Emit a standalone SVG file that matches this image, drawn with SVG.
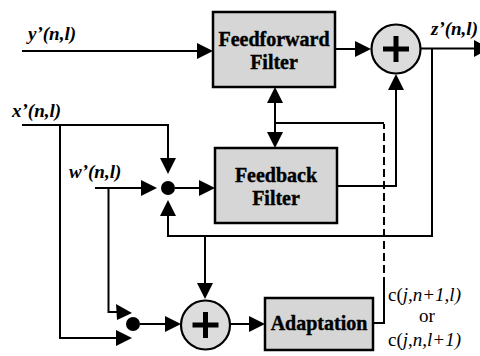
<svg xmlns="http://www.w3.org/2000/svg" width="480" height="356" viewBox="0 0 480 356">
<style>
.box{fill:#d6d6d6;stroke:#000;stroke-width:2.5}
.sum{fill:#dcdcdc;stroke:#000;stroke-width:2.2}
.plus{stroke:#000;stroke-width:5;fill:none}
.ln{fill:none;stroke:#000;stroke-width:2}
.dash{fill:none;stroke:#000;stroke-width:2;stroke-dasharray:8 4}
.ah{fill:#000}
text{font-family:'Liberation Serif','Times New Roman',serif}
.bt{font-weight:bold;font-size:20px;text-anchor:middle;stroke:#000;stroke-width:0.4}
.lb{font-style:italic;font-weight:bold;font-size:19px}
.cl{font-style:italic;font-size:19px}
.cr{font-style:normal}
</style>
<rect width="480" height="356" fill="#fff"/>
<g id="connectors">
<line class="ln" x1="22" y1="51" x2="200" y2="51"/>
<polygon class="ah" points="213,51 197,43 197,59"/>
<line class="ln" x1="335" y1="49" x2="358" y2="49"/>
<polygon class="ah" points="371,49 355,41 355,57"/>
<line class="ln" x1="420" y1="48.5" x2="476" y2="48.5"/>
<polygon class="ah" points="474,40 474,57 490,48.5"/>
<polyline class="ln" points="432,48.5 432,236 168,236 168,212"/>
<polygon class="ah" points="168,200 160,216 176,216"/>
<line class="ln" x1="205" y1="236" x2="205" y2="286"/>
<polygon class="ah" points="205,299 197,283 213,283"/>
<polyline class="ln" points="22,125 168,125 168,162"/>
<polygon class="ah" points="168,174 160,158 176,158"/>
<polyline class="ln" points="60,125 60,338 118,338"/>
<polygon class="ah" points="132,338 116,330 116,346"/>
<line class="ln" x1="95" y1="188" x2="144" y2="188"/>
<polygon class="ah" points="157,188 141,180 141,196"/>
<polyline class="ln" points="108.5,188 108.5,312 118,312"/>
<polygon class="ah" points="132,313 116,304 117,320"/>
<line class="ln" x1="175" y1="188" x2="202" y2="188"/>
<polygon class="ah" points="215,188 199,180 199,196"/>
<line class="ln" x1="140" y1="324" x2="168" y2="324"/>
<polygon class="ah" points="181,324 165,316 165,332"/>
<line class="ln" x1="230" y1="324" x2="252" y2="324"/>
<polygon class="ah" points="265,324 249,316 249,332"/>
<polyline class="ln" points="337,186 396,186 396,88"/>
<polygon class="ah" points="396,74 388,90 404,90"/>
<line class="ln" x1="275" y1="100" x2="275" y2="135"/>
<polygon class="ah" points="275,87 267,103 283,103"/>
<polygon class="ah" points="275,148 267,132 283,132"/>
<polyline class="ln" points="373,323 384,323 384,285"/>
<line class="dash" x1="384" y1="285" x2="384" y2="124"/>
<polyline class="ln" points="384,123 275,123"/>
<circle cx="168" cy="188" r="7" fill="#000"/>
<circle cx="133" cy="324" r="7" fill="#000"/>
</g>
<g id="feedforward">
<rect class="box" x="213" y="12" width="122" height="75"/>
<text class="bt" x="274" y="46">Feedforward</text>
<text class="bt" x="274" y="69">Filter</text>
</g>
<g id="feedback">
<rect class="box" x="215" y="148" width="122" height="75"/>
<text class="bt" x="276" y="182">Feedback</text>
<text class="bt" x="276" y="205">Filter</text>
</g>
<g id="adaptation">
<rect class="box" x="265" y="298" width="108" height="52"/>
<text class="bt" x="319" y="330">Adaptation</text>
</g>
<g id="sum1">
<circle class="sum" cx="396" cy="49" r="24.5"/>
<path class="plus" d="M383 49H409M396 36V62"/>
</g>
<g id="sum2">
<circle class="sum" cx="205.5" cy="325" r="24.5"/>
<path class="plus" d="M192.5 325H218.5M205.5 312V338"/>
</g>
<g id="labels">
<text class="lb" x="28" y="40">y’(n,l)</text>
<text class="lb" x="12" y="117">x’(n,l)</text>
<text class="lb" x="69" y="178">w’(n,l)</text>
<text class="lb" x="431" y="35">z’(n,l)</text>
<text class="cl" x="388" y="301"><tspan class="cr">c(</tspan>j,n+1,l)</text>
<text class="cl cr" x="427" y="322" text-anchor="middle">or</text>
<text class="cl" x="388" y="346"><tspan class="cr">c(</tspan>j,n,l+1)</text>
</g>
</svg>
